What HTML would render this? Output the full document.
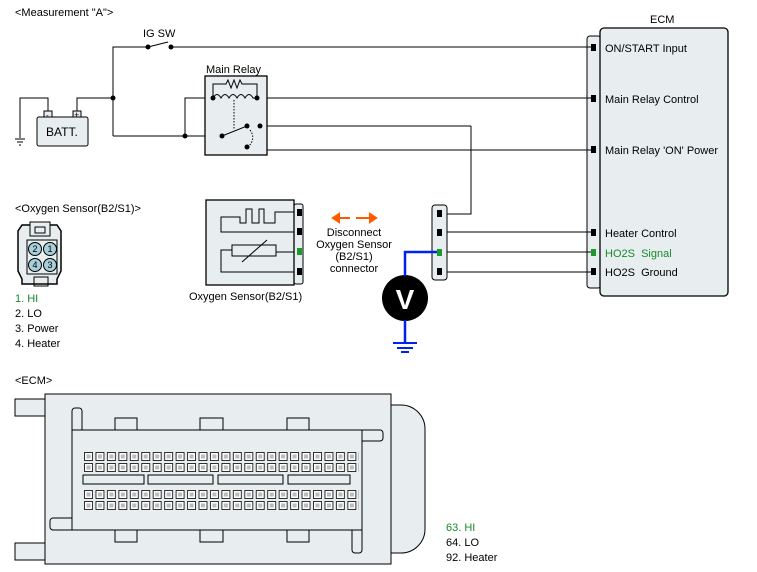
<!DOCTYPE html>
<html><head><meta charset="utf-8"><style>
body{margin:0;background:#fff}
svg{display:block;font-family:"Liberation Sans",sans-serif;font-size:11px}
</style></head><body>
<svg width="757" height="572" viewBox="0 0 757 572" xmlns="http://www.w3.org/2000/svg">
<defs>
<pattern id="pinsA" x="84" y="1" width="11.45" height="11" patternUnits="userSpaceOnUse">
<rect x="0.5" y="0.5" width="8" height="8" fill="#fff" stroke="#000" stroke-width="0.8"/>
<rect x="2.5" y="2.5" width="4" height="4" fill="#bbb"/>
</pattern>
<pattern id="pinsB" x="84" y="6" width="11.45" height="11" patternUnits="userSpaceOnUse">
<rect x="0.5" y="0.5" width="8" height="8" fill="#fff" stroke="#000" stroke-width="0.8"/>
<rect x="2.5" y="2.5" width="4" height="4" fill="#bbb"/>
</pattern>
</defs>
<g fill="none" stroke="#000" stroke-width="1">
<rect x="587" y="36" width="14" height="252" rx="3" fill="#e8eef0"/>
<rect x="600" y="28" width="128" height="268" rx="4" fill="#e8eef0" stroke-width="1.3"/>
<polyline points="113,136 113,47 148,47"/>
<line x1="148" y1="47" x2="168" y2="42"/>
<line x1="171" y1="47" x2="592" y2="47"/>
<polyline points="20,138 20,98 48,98 48,112"/>
<polyline points="77,112 77,98 113,98"/>
<line x1="113" y1="136" x2="222" y2="136"/>
<polyline points="185,136 185,98 213,98"/>
<line x1="257" y1="98" x2="592" y2="98"/>
<line x1="260" y1="126" x2="471" y2="126"/>
<polyline points="471,126 471,214 440,214"/>
<polyline points="260,126 265,126 265,150 592,150"/>
<line x1="440" y1="232" x2="592" y2="232"/>
<line x1="440" y1="252" x2="592" y2="252"/>
<line x1="440" y1="272" x2="592" y2="272"/>
<line x1="15" y1="139" x2="25" y2="139"/><line x1="17" y1="142" x2="23" y2="142"/><line x1="19" y1="145" x2="21" y2="145"/>
<rect x="37" y="117" width="51" height="29" rx="2" fill="#e8eef0"/>
<rect x="44" y="111" width="8" height="6" fill="#e8eef0"/>
<rect x="73" y="111" width="8" height="6" fill="#e8eef0"/>
<rect x="205" y="76" width="62" height="79" fill="#e8eef0" stroke-width="1.3"/>
<polyline points="213,98 213,84 226,84 228,80 231,88 234,80 237,88 240,80 242,84 257,84 257,98"/>
<path d="M213,98 q4,-7 8,0 q4,-7 8,0 q4,-7 8,0 q4,-7 8,0 q4,-7 8,0 l4,0"/>
<line x1="234" y1="100" x2="234" y2="130" stroke-dasharray="1.5,1.5"/>
<line x1="222" y1="136" x2="247" y2="126"/>
<path d="M250,130 q6,8 -1,16" stroke-dasharray="1.5,1.5"/>
<rect x="432" y="205" width="15" height="75" rx="3" fill="#e8eef0"/>
<rect x="294" y="204" width="9" height="80" rx="2" fill="#e8eef0"/>
<rect x="206" y="200" width="88" height="85" fill="#e8eef0" stroke-width="1.3"/>
<polyline points="294,212 275,212 275,223 264,223 264,209 259,209 259,223 252,223 252,209 246,209 246,223 240,223 240,217 221,217 221,232 294,232"/>
<rect x="232" y="245" width="44" height="11" fill="#e8eef0"/>
<line x1="242" y1="262" x2="267" y2="240"/>
<polyline points="232,250 221,250 221,272 294,272"/>
<polyline points="276,252 294,252"/>
<path d="M22,225 h35 l4,6 v40 l-4,8 v5 h-35 v-5 l-4,-8 v-40 z" fill="#e8eef0" stroke-width="1.5"/>
<rect x="30" y="222" width="20" height="14" fill="#e8eef0"/>
<rect x="35" y="227" width="10" height="6"/>
<rect x="27" y="240" width="30" height="34"/>
<rect x="34" y="277" width="14" height="9"/>
<circle cx="35" cy="249" r="6.5" fill="#a7cfd9"/><circle cx="50" cy="249" r="6.5" fill="#a7cfd9"/>
<circle cx="35" cy="265" r="6.5" fill="#a7cfd9"/><circle cx="50" cy="265" r="6.5" fill="#a7cfd9"/>
<rect x="15" y="399" width="32" height="17" fill="#e8eef0"/>
<rect x="15" y="543" width="32" height="17" fill="#e8eef0"/>
<path d="M391,405 h10 a24,24 0 0 1 24,24 v100 a24,24 0 0 1 -24,24 h-10" fill="#e8eef0"/>
<rect x="45" y="394" width="346" height="170" fill="#e8eef0"/>
<rect x="72" y="408" width="10" height="30" rx="3" fill="#e8eef0"/>
<rect x="50" y="518" width="30" height="12" rx="3" fill="#e8eef0"/>
<rect x="352" y="430" width="31" height="11" rx="3" fill="#e8eef0"/>
<rect x="352" y="520" width="10" height="33" rx="3" fill="#e8eef0"/>
<rect x="115" y="418" width="22" height="12"/><rect x="200" y="418" width="23" height="12"/><rect x="287" y="418" width="22" height="12"/>
<rect x="115" y="530" width="22" height="12"/><rect x="200" y="530" width="23" height="12"/><rect x="287" y="530" width="22" height="12"/>
<rect x="72" y="430" width="290" height="100" fill="#e8eef0"/>
<rect x="83" y="475" width="61" height="9"/><rect x="148" y="475" width="65" height="9"/><rect x="218" y="475" width="65" height="9"/><rect x="288" y="475" width="62" height="9"/>
</g>
<rect x="84" y="452" width="275" height="20" fill="url(#pinsA)"/>
<rect x="84" y="490" width="275" height="20" fill="url(#pinsB)"/>
<g fill="#000">
<circle cx="113" cy="98" r="2.5"/><circle cx="148" cy="47" r="2.5"/><circle cx="171" cy="47" r="2.5"/>
<circle cx="185" cy="136" r="2.5"/><circle cx="213" cy="98" r="2.5"/><circle cx="257" cy="98" r="2.5"/>
<circle cx="222" cy="136" r="2.5"/><circle cx="247" cy="126" r="2.5"/><circle cx="260" cy="126" r="2.5"/><circle cx="247" cy="147" r="2.5"/>
<rect x="591" y="44" width="5" height="7"/><rect x="591" y="95" width="5" height="7"/><rect x="591" y="146" width="5" height="7"/>
<rect x="591" y="229" width="5" height="7"/><rect x="591" y="268" width="5" height="7"/>
<rect x="437" y="210" width="5" height="7"/><rect x="437" y="229" width="5" height="7"/><rect x="437" y="268" width="5" height="7"/>
<rect x="297" y="209" width="5" height="7"/><rect x="297" y="228" width="5" height="7"/><rect x="297" y="268" width="5" height="7"/>
<circle cx="405" cy="298" r="23"/>
</g>
<g fill="#1a9a2a">
<rect x="591" y="249" width="5" height="7"/><rect x="437" y="249" width="5" height="7"/><rect x="297" y="248" width="5" height="7"/>
</g>
<g stroke="#0022ee" stroke-width="2.5" fill="none">
<polyline points="437,252 405,252 405,276"/>
<line x1="405" y1="320" x2="405" y2="343"/>
</g>
<g stroke="#0022ee" stroke-width="2"><line x1="393" y1="343" x2="417" y2="343"/><line x1="397" y1="348" x2="413" y2="348"/><line x1="401" y1="352" x2="409" y2="352"/></g>
<text x="405" y="309" fill="#fff" font-size="28" font-weight="bold" text-anchor="middle">V</text>
<g fill="#ff5a00" stroke="#ff5a00" stroke-width="2">
<line x1="336" y1="218" x2="350" y2="218"/><polygon points="333,218 339,214 339,222"/>
<line x1="356" y1="218" x2="372" y2="218"/><polygon points="376,218 370,214 370,222"/>
</g>
<g fill="#000">
<text x="15" y="16">&lt;Measurement "A"&gt;</text>
<text x="143" y="37">IG SW</text>
<text x="206" y="73">Main Relay</text>
<text x="46" y="136" font-size="12">BATT.</text>
<text x="46" y="118" font-size="8">-</text><text x="74" y="118" font-size="9">+</text>
<text x="650" y="23">ECM</text>
<text x="605" y="52">ON/START Input</text>
<text x="605" y="103">Main Relay Control</text>
<text x="605" y="154">Main Relay 'ON' Power</text>
<text x="605" y="237">Heater Control</text>
<text x="605" y="276">HO2S&#160;&#160;Ground</text>
<text x="15" y="212">&lt;Oxygen Sensor(B2/S1)&gt;</text>
<text x="189" y="300">Oxygen Sensor(B2/S1)</text>
<text x="354" y="236" text-anchor="middle">Disconnect</text>
<text x="354" y="248" text-anchor="middle">Oxygen Sensor</text>
<text x="354" y="260" text-anchor="middle">(B2/S1)</text>
<text x="354" y="272" text-anchor="middle">connector</text>
<text x="15" y="317">2. LO</text>
<text x="15" y="332">3. Power</text>
<text x="15" y="347">4. Heater</text>
<text x="15" y="384">&lt;ECM&gt;</text>
<text x="446" y="546">64. LO</text>
<text x="446" y="561">92. Heater</text>
<g font-size="9" text-anchor="middle"><text x="35" y="252">2</text><text x="50" y="252">1</text><text x="35" y="268">4</text><text x="50" y="268">3</text></g>
</g>
<g fill="#1a8a2a">
<text x="605" y="257">HO2S&#160;&#160;Signal</text>
<text x="15" y="302">1. HI</text>
<text x="446" y="531">63. HI</text>
</g>
</svg>
</body></html>
